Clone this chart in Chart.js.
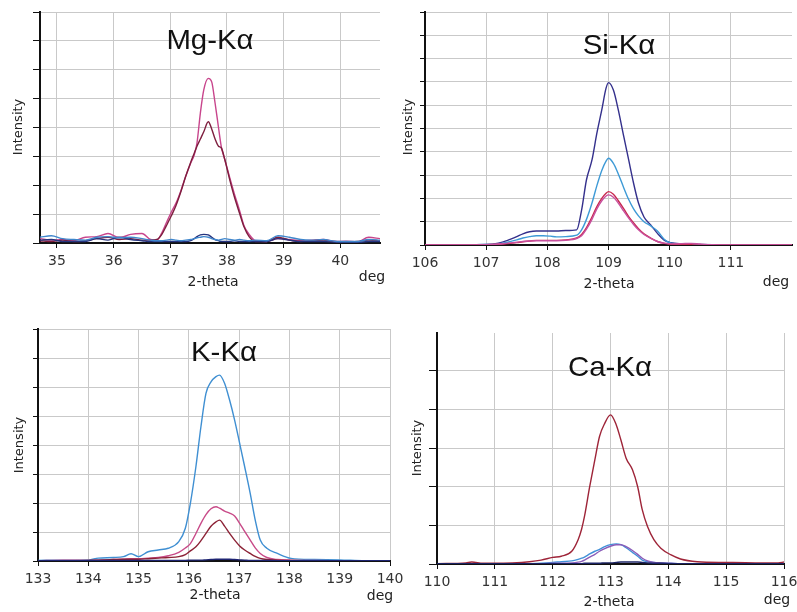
<!DOCTYPE html>
<html>
<head>
<meta charset="utf-8">
<script src="https://cdn.jsdelivr.net/npm/chart.js@4.4.1/dist/chart.umd.min.js"></script>
<style>
  body { margin: 0; background: #fff; width: 797px; height: 612px; position: relative; overflow: hidden; font-family: "DejaVu Sans", sans-serif; }
  canvas { position: absolute; }
  .lbl { position: absolute; font-size: 14px; color: #222; white-space: nowrap; line-height: 1; transform: translate(-50%, -50%); }
  .rot { font-size: 13px; transform: translate(-50%, -50%) rotate(-90deg); }
  .ttl { position: absolute; font-family: "Liberation Sans", Arial, sans-serif; font-size: 28px; color: #111; white-space: nowrap; line-height: 1; transform: translate(-50%, -50%) scaleX(1.05); }
</style>
</head>
<body>
<canvas id="mgChart" width="400" height="300" style="left:0;top:0"></canvas>
<canvas id="siChart" width="397" height="300" style="left:400px;top:0"></canvas>
<canvas id="kChart" width="410" height="312" style="left:0;top:300px"></canvas>
<canvas id="caChart" width="397" height="312" style="left:400px;top:300px"></canvas>

<div class="ttl" style="left:210px;top:40px">Mg-Kα</div>
<div class="ttl" style="left:619px;top:45px">Si-Kα</div>
<div class="ttl" style="left:224px;top:352px">K-Kα</div>
<div class="ttl" style="left:610px;top:367px">Ca-Kα</div>

<div class="lbl rot" style="left:17px;top:127px">Intensity</div>
<div class="lbl rot" style="left:407px;top:127px">Intensity</div>
<div class="lbl rot" style="left:18px;top:445px">Intensity</div>
<div class="lbl rot" style="left:416px;top:448px">Intensity</div>

<div class="lbl" style="left:213px;top:281px">2-theta</div>
<div class="lbl" style="left:609px;top:283px">2-theta</div>
<div class="lbl" style="left:215px;top:594px">2-theta</div>
<div class="lbl" style="left:609px;top:601px">2-theta</div>

<div class="lbl" style="left:372px;top:276px">deg</div>
<div class="lbl" style="left:776px;top:281px">deg</div>
<div class="lbl" style="left:380px;top:595px">deg</div>
<div class="lbl" style="left:777px;top:599px">deg</div>

<script>
// Mg-Kα
const mgTheta = [34.7, 34.9, 35.1, 35.3, 35.5, 35.7, 35.9, 36.1, 36.3, 36.5, 36.65, 36.76, 36.85, 36.93, 37.02, 37.1, 37.19, 37.27, 37.36, 37.42, 37.47, 37.53, 37.59, 37.67, 37.73, 37.79, 37.85, 37.9, 37.96, 38.05, 38.13, 38.22, 38.3, 38.39, 38.5, 38.7, 38.9, 39.1, 39.3, 39.5, 39.7, 39.9, 40.1, 40.3, 40.5, 40.7];
const mgPink = [0.15, 0.1, 0.12, 0.08, 0.2, 0.22, 0.33, 0.18, 0.3, 0.33, 0.12, 0.1, 0.35, 0.7, 1.08, 1.38, 1.83, 2.3, 2.77, 3.04, 3.46, 4.5, 5.3, 5.7, 5.58, 4.84, 4.0, 3.33, 2.9, 2.25, 1.7, 1.14, 0.6, 0.3, 0.08, 0.05, 0.15, 0.12, 0.08, 0.1, 0.12, 0.05, 0.06, 0.04, 0.2, 0.15];
const mgMaroon = [0.08, 0.05, 0.1, 0.05, 0.08, 0.15, 0.2, 0.12, 0.15, 0.1, 0.1, 0.12, 0.3, 0.6, 0.95, 1.3, 1.8, 2.3, 2.8, 3.1, 3.35, 3.6, 3.85, 4.2, 3.95, 3.6, 3.35, 3.29, 2.9, 2.18, 1.6, 1.04, 0.56, 0.22, 0.05, 0.05, 0.2, 0.1, 0.05, 0.08, 0.1, 0.05, 0.03, 0.05, 0.1, 0.08];
const mgBlue = [0.2, 0.25, 0.15, 0.12, 0.1, 0.2, 0.22, 0.18, 0.2, 0.15, 0.1, 0.08, 0.08, 0.1, 0.12, 0.1, 0.08, 0.1, 0.12, 0.15, 0.18, 0.2, 0.22, 0.2, 0.15, 0.12, 0.1, 0.12, 0.15, 0.12, 0.1, 0.12, 0.1, 0.08, 0.1, 0.08, 0.25, 0.2, 0.12, 0.1, 0.12, 0.06, 0.05, 0.05, 0.12, 0.1];
const mgNavy = [0.1, 0.12, 0.05, 0.05, 0.05, 0.15, 0.1, 0.2, 0.12, 0.08, 0.05, 0.05, 0.05, 0.05, 0.05, 0.05, 0.05, 0.05, 0.08, 0.15, 0.22, 0.28, 0.3, 0.28, 0.2, 0.12, 0.08, 0.05, 0.05, 0.05, 0.08, 0.05, 0.05, 0.05, 0.05, 0.05, 0.15, 0.1, 0.05, 0.05, 0.05, 0.03, 0.02, 0.02, 0.05, 0.05];
const mgTicks = [35, 36, 37, 38, 39, 40];
const mgGrid = [0, 1, 2, 3, 4, 5, 6, 7, 8];

// Si-Kα
const siTheta = [106, 106.5, 107, 107.2, 107.35, 107.5, 107.6, 107.71, 107.82, 107.93, 108.05, 108.15, 108.3, 108.48, 108.56, 108.64, 108.73, 108.81, 108.89, 108.96, 109.0, 109.08, 109.16, 109.25, 109.33, 109.41, 109.49, 109.58, 109.69, 109.8, 109.91, 110.02, 110.2, 110.35, 110.5, 110.7, 111, 111.5, 112];
const siNavy = [0, 0.01, 0.02, 0.08, 0.2, 0.36, 0.48, 0.57, 0.6, 0.6, 0.6, 0.6, 0.62, 0.65, 1.5, 2.8, 3.65, 4.8, 5.8, 6.73, 6.97, 6.65, 5.8, 4.65, 3.65, 2.65, 1.8, 1.2, 0.86, 0.5, 0.21, 0.1, 0.05, 0.03, 0.02, 0.01, 0, 0, 0];
const siBlue = [0, 0.01, 0.02, 0.05, 0.12, 0.22, 0.3, 0.36, 0.4, 0.4, 0.38, 0.35, 0.36, 0.42, 0.65, 1.1, 1.8, 2.55, 3.2, 3.6, 3.72, 3.5, 3.05, 2.45, 1.95, 1.55, 1.25, 1.0, 0.82, 0.6, 0.25, 0.08, 0.04, 0.02, 0.01, 0, 0, 0, 0];
const siRed = [0, 0, 0.01, 0.03, 0.06, 0.1, 0.14, 0.17, 0.2, 0.2, 0.2, 0.2, 0.22, 0.3, 0.45, 0.75, 1.2, 1.65, 2.0, 2.22, 2.29, 2.18, 1.9, 1.55, 1.22, 0.95, 0.7, 0.48, 0.3, 0.15, 0.07, 0.03, 0.02, 0.01, 0, 0, 0, 0, 0];
const siPink = [0, 0, 0.01, 0.04, 0.08, 0.12, 0.15, 0.17, 0.18, 0.18, 0.18, 0.18, 0.2, 0.28, 0.4, 0.68, 1.1, 1.55, 1.9, 2.1, 2.15, 2.05, 1.8, 1.45, 1.15, 0.88, 0.65, 0.45, 0.28, 0.15, 0.08, 0.05, 0.06, 0.07, 0.04, 0.01, 0, 0, 0];
const siTicks = [106, 107, 108, 109, 110, 111];
const siGrid = [0, 1, 2, 3, 4, 5, 6, 7, 8, 9, 10];

// K-Kα
const kTheta = [133, 133.5, 134, 134.2, 134.5, 134.7, 134.85, 135, 135.19, 135.39, 135.59, 135.8, 135.93, 136.03, 136.14, 136.24, 136.34, 136.44, 136.54, 136.61, 136.71, 136.81, 136.91, 137.01, 137.11, 137.22, 137.32, 137.42, 137.55, 137.76, 138.03, 138.5, 139, 139.5, 140];
const kBlue = [0.02, 0.03, 0.04, 0.1, 0.12, 0.15, 0.25, 0.15, 0.32, 0.38, 0.44, 0.67, 1.13, 1.99, 3.25, 4.63, 5.78, 6.18, 6.36, 6.41, 6.13, 5.55, 4.86, 4.06, 3.25, 2.33, 1.41, 0.72, 0.44, 0.26, 0.09, 0.05, 0.04, 0.01, 0.01];
const kPink = [0.01, 0.03, 0.02, 0.03, 0.05, 0.06, 0.08, 0.08, 0.1, 0.12, 0.18, 0.3, 0.45, 0.6, 0.95, 1.3, 1.6, 1.8, 1.87, 1.82, 1.72, 1.65, 1.55, 1.3, 1.02, 0.72, 0.45, 0.26, 0.12, 0.05, 0.03, 0.02, 0.01, 0, 0];
const kMaroon = [0.01, 0.01, 0.02, 0.03, 0.05, 0.06, 0.06, 0.06, 0.08, 0.1, 0.12, 0.15, 0.22, 0.35, 0.49, 0.7, 0.95, 1.2, 1.35, 1.41, 1.2, 0.95, 0.72, 0.52, 0.38, 0.26, 0.16, 0.09, 0.05, 0.03, 0.02, 0.01, 0, 0, 0];
const kNavy = [0.01, 0.01, 0.01, 0.02, 0.02, 0.02, 0.02, 0.02, 0.02, 0.02, 0.02, 0.02, 0.02, 0.03, 0.03, 0.03, 0.04, 0.05, 0.06, 0.06, 0.06, 0.06, 0.05, 0.04, 0.03, 0.02, 0.02, 0.02, 0.02, 0.01, 0.01, 0.01, 0.01, 0.01, 0.01];
const kTicks = [133, 134, 135, 136, 137, 138, 139, 140];
const kGrid = [0, 1, 2, 3, 4, 5, 6, 7, 8];

// Ca-Kα
const caTheta = [110, 110.5, 110.6, 110.8, 111, 111.3, 111.6, 111.8, 112.0, 112.15, 112.33, 112.44, 112.5, 112.55, 112.64, 112.73, 112.81, 112.9, 113.0, 113.1, 113.18, 113.27, 113.38, 113.47, 113.55, 113.64, 113.75, 113.87, 114.04, 114.21, 114.5, 115, 115.5, 115.9, 116];
const caMaroon = [0.01, 0.03, 0.05, 0.02, 0.02, 0.03, 0.06, 0.1, 0.17, 0.2, 0.33, 0.63, 0.9, 1.23, 2.0, 2.7, 3.3, 3.64, 3.86, 3.6, 3.21, 2.74, 2.44, 2.0, 1.4, 0.97, 0.63, 0.41, 0.24, 0.13, 0.06, 0.04, 0.03, 0.03, 0.05];
const caBlue = [0, 0, 0, 0, 0.01, 0.01, 0.01, 0.02, 0.04, 0.06, 0.08, 0.12, 0.15, 0.18, 0.26, 0.33, 0.38, 0.45, 0.5, 0.52, 0.5, 0.42, 0.3, 0.2, 0.1, 0.06, 0.04, 0.03, 0.02, 0.01, 0.01, 0.01, 0.01, 0.01, 0.01];
const caPurple = [0, 0, 0, 0, 0, 0.01, 0.01, 0.01, 0.02, 0.02, 0.03, 0.05, 0.07, 0.1, 0.18, 0.25, 0.33, 0.4, 0.46, 0.5, 0.5, 0.45, 0.35, 0.25, 0.15, 0.08, 0.04, 0.03, 0.02, 0.01, 0.01, 0.01, 0.01, 0.01, 0.01];
const caNavy = [0.01, 0.01, 0.01, 0.01, 0.01, 0.01, 0.01, 0.01, 0.01, 0.01, 0.01, 0.01, 0.01, 0.02, 0.02, 0.02, 0.02, 0.03, 0.03, 0.04, 0.05, 0.05, 0.05, 0.05, 0.04, 0.03, 0.02, 0.02, 0.01, 0.01, 0.01, 0.01, 0.01, 0.01, 0.01];
const caTicks = [110, 111, 112, 113, 114, 115, 116];
const caGrid = [0, 1, 2, 3, 4, 5];

// linie grafigi kur
function makePanel(id, theta, series, xMin, xMax, xTicks, yMax, yGrid, padding, yTick) {
  const ctx = document.getElementById(id).getContext("2d");
  new Chart(ctx, {
    type: "line",
    data: {
      datasets: series.map((s) => ({
        data: theta.map((t, i) => ({ x: t, y: s.values[i] })),
        borderColor: s.color,
        borderWidth: 1.4,
        pointRadius: 0,
        cubicInterpolationMode: "monotone",
        fill: false,
      })),
    },
    options: {
      responsive: false,
      animation: false,
      layout: { padding: padding },
      plugins: { legend: { display: false }, tooltip: { enabled: false } },
      scales: {
        x: {
          type: "linear",
          min: xMin,
          max: xMax,
          afterBuildTicks: (s) => { s.ticks = xTicks.map((v) => ({ value: v })); },
          afterFit: (s) => { s.height = 30; s.paddingLeft = 0; s.paddingRight = 0; },
          ticks: {
            autoSkip: false,
            maxRotation: 0,
            padding: 5,
            color: "#333",
            font: { family: "DejaVu Sans", size: 14 },
            callback: (v) => String(v),
          },
          grid: { color: "#c9c9c9", lineWidth: 1, tickLength: 5, tickColor: "#111" },
          border: { color: "#111", width: 2 },
        },
        y: {
          type: "linear",
          min: 0,
          max: yMax,
          afterBuildTicks: (s) => { s.ticks = yGrid.map((v) => ({ value: v })); },
          afterFit: (s) => { s.width = 8; s.paddingTop = 0; s.paddingBottom = 0; },
          ticks: { display: false },
          grid: { color: "#c9c9c9", lineWidth: 1, tickLength: yTick, tickColor: "#111" },
          border: { color: "#111", width: 2 },
        },
      },
    },
  });
}

makePanel("mgChart", mgTheta, [
  { values: mgBlue, color: "#3f86cc" },
  { values: mgNavy, color: "#26347e" },
  { values: mgMaroon, color: "#7e1e3e" },
  { values: mgPink, color: "#c8458c" },
], 34.7, 40.7, mgTicks, 8, mgGrid, { left: 32, top: 12, right: 20, bottom: 27 }, 7);

makePanel("siChart", siTheta, [
  { values: siPink, color: "#c8509e" },
  { values: siRed, color: "#c8284e" },
  { values: siBlue, color: "#3e9ad6" },
  { values: siNavy, color: "#34308c" },
], 106, 112, siTicks, 10, siGrid, { left: 17, top: 12, right: 5, bottom: 25 }, 5);

makePanel("kChart", kTheta, [
  { values: kNavy, color: "#1e2472" },
  { values: kMaroon, color: "#8c2236" },
  { values: kPink, color: "#c84a88" },
  { values: kBlue, color: "#3f8fd2" },
], 133, 140, kTicks, 8, kGrid, { left: 30, top: 29, right: 20, bottom: 21 }, 5);

makePanel("caChart", caTheta, [
  { values: caNavy, color: "#1c2466" },
  { values: caPurple, color: "#8a5cb8" },
  { values: caBlue, color: "#4090d8" },
  { values: caMaroon, color: "#9e2438" },
], 110, 116, caTicks, 5.98, caGrid, { left: 29, top: 33, right: 13, bottom: 18 }, 8);
</script>
</body>
</html>
